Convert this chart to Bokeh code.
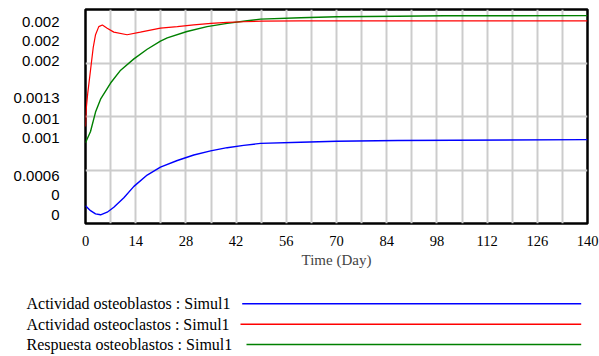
from bokeh.plotting import figure
from bokeh.layouts import column
from bokeh.models import Range1d, FixedTicker, CustomJSTickFormatter
from bokeh.core.properties import value
from bokeh.embed import file_html
from bokeh.resources import INLINE

# ---- data ----
t_red = [0, 0.2, 0.64, 1.4, 2.15, 2.8, 3.7, 4.7, 6.05, 7.9, 11.6, 15.3, 20.9, 25.6, 30.2, 35, 39.5, 44, 49, 60, 140]
red = [0.001234, 0.001349, 0.001455, 0.001603, 0.001751, 0.001835, 0.001888, 0.001899, 0.001878, 0.001852,
       0.001835, 0.001852, 0.001878, 0.001888, 0.001899, 0.001909, 0.001916, 0.001920, 0.001924, 0.001926, 0.001926]

t_green = [0, 1.4, 2.8, 4.2, 7, 9.8, 13.5, 17.2, 20.9, 22.8, 28.3, 33.9, 39.5, 45.1, 48.8, 60, 70, 87, 100, 140]
green = [0.001128, 0.001202, 0.001329, 0.001413, 0.001519, 0.001603, 0.001677, 0.001740, 0.001793, 0.001814,
         0.001856, 0.001888, 0.001909, 0.001926, 0.001937, 0.001946, 0.001953, 0.001956, 0.001959, 0.001960]

t_blue = [0, 1.4, 2.8, 4.2, 6.05, 7.9, 10.7, 13.5, 17.2, 20.9, 25.6, 30.2, 34.9, 39.5, 44.1, 48.8, 60, 70, 87, 140]
blue = [0.000716, 0.000684, 0.000663, 0.000657, 0.000674, 0.000706, 0.000769, 0.000843, 0.000917, 0.000969,
        0.001012, 0.001048, 0.001075, 0.001096, 0.001111, 0.001124, 0.001132, 0.001138, 0.001143, 0.001149]

series_names = ["Actividad osteoblastos : Simul1",
                "Actividad osteoclastos : Simul1",
                "Respuesta osteoblastos : Simul1"]
series_colors = ["#0000ff", "#ff0000", "#008000"]

x_ticks = list(range(0, 141, 14))
x_grid = list(range(0, 141, 7))
y_grid = [0.0006, 0.00095, 0.0013, 0.00165, 0.002]
y_tick_pos = [0.000657, 0.000784, 0.000910, 0.001159, 0.001286, 0.001424, 0.001666, 0.001793, 0.001920]
y_tick_labels = ["0", "0", "0.0006", "0.001", "0.001", "0.0013", "0.002", "0.002", "0.002"]

# ---- main chart ----
p = figure(width=599, height=270, output_backend="svg", toolbar_location=None,
           x_range=Range1d(0, 140), y_range=Range1d(0.0006, 0.002),
           min_border_left=85, min_border_right=12, min_border_top=9, min_border_bottom=40,
           frame_align=False)
p.outline_line_color = "black"
p.outline_line_width = 2.5
p.background_fill_color = "white"
p.border_fill_color = "white"

p.xaxis.ticker = FixedTicker(ticks=x_ticks)
p.xgrid.ticker = FixedTicker(ticks=x_grid)
p.yaxis.ticker = FixedTicker(ticks=y_tick_pos)
p.ygrid.ticker = FixedTicker(ticks=y_grid)
p.yaxis.formatter = CustomJSTickFormatter(args=dict(labels=y_tick_labels), code="return labels[index];")

for ax in (p.xaxis[0], p.yaxis[0]):
    ax.axis_line_color = None
    ax.major_tick_line_color = None
    ax.minor_tick_line_color = None
    ax.major_tick_out = 0
    ax.major_tick_in = 0
    ax.major_label_text_color = "black"

p.xaxis.major_label_text_font = "Liberation Serif"
p.xaxis.major_label_text_font_size = "14.5px"
p.xaxis.major_label_standoff = 12
p.xaxis.axis_label = "Time (Day)"
p.xaxis.axis_label_text_font = "Liberation Serif"
p.xaxis.axis_label_text_font_size = "15px"
p.xaxis.axis_label_text_font_style = "normal"
p.xaxis.axis_label_standoff = 3

p.yaxis.major_label_text_font = "Liberation Sans"
p.yaxis.major_label_text_font_size = "15px"
p.yaxis.major_label_standoff = 26

p.grid.grid_line_color = "#cccccc"
p.grid.grid_line_width = 2

p.line(t_blue, blue, line_color=series_colors[0], line_width=1.4)
p.line(t_green, green, line_color=series_colors[2], line_width=1.4)
p.line(t_red, red, line_color=series_colors[1], line_width=1.2)

# ---- legend panel below (text, then line swatch); coordinates are panel pixels ----
leg = figure(width=599, height=86, output_backend="svg", toolbar_location=None,
             x_range=Range1d(0, 599), y_range=Range1d(86, 0),
             x_axis_location=None, y_axis_location=None, min_border=0, frame_align=False)
leg.outline_line_color = None
leg.grid.visible = False
leg.background_fill_color = "white"
leg.border_fill_color = "white"
row_y = [33.3, 53.7, 74]
text_x = [26, 26, 26]
line_x0 = [241.7, 240, 246]
line_x1 = [580.7, 580.7, 580.7]
leg.text(x=text_x, y=row_y, text=series_names, text_align="left", text_baseline="middle",
         text_font=value("Liberation Serif"), text_font_size="16px", text_color="black")
leg.segment(x0=line_x0, y0=row_y, x1=line_x1, y1=row_y, line_color=series_colors, line_width=1.6)

layout = column(p, leg, spacing=0)
open("out.html", "w").write(file_html(layout, INLINE))
